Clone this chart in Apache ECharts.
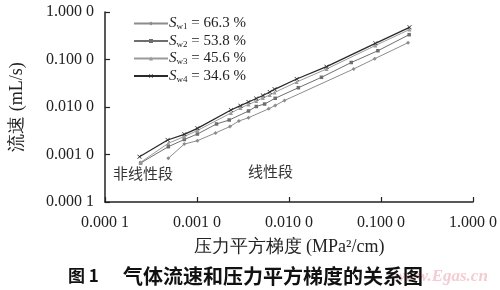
<!DOCTYPE html>
<html><head><meta charset="utf-8">
<script src="https://cdn.jsdelivr.net/npm/echarts@6/dist/echarts.min.js"></script>
<style>html,body{margin:0;padding:0;background:#fff}#c{width:500px;height:290px}</style>
</head><body><div id="c"></div>
<script>
// Data (log-log)
var sw1X = [0.000488, 0.000728, 0.00101, 0.00159, 0.00228, 0.00285, 0.00363, 0.00602, 0.00708, 0.00893, 0.0504, 0.0855, 0.197];
var sw1Y = [0.000832, 0.00166, 0.00195, 0.00284, 0.00388, 0.00507, 0.00595, 0.00917, 0.01076, 0.0137, 0.0631, 0.104, 0.226];
var sw2X = [0.000244, 0.000488, 0.000728, 0.00101, 0.00163, 0.00224, 0.00363, 0.00441, 0.00543, 0.00708, 0.01264, 0.02254, 0.04753, 0.0925, 0.2023];
var sw2Y = [0.000662, 0.00146, 0.00207, 0.0027, 0.00439, 0.00532, 0.00824, 0.01025, 0.01156, 0.01525, 0.02548, 0.0422, 0.0865, 0.153, 0.333];
var sw3X = [0.000244, 0.000488, 0.000728, 0.00101, 0.00234, 0.00297, 0.00363, 0.00441, 0.00521, 0.00618, 0.00697, 0.01213, 0.02559, 0.0869, 0.204];
var sw3Y = [0.000685, 0.00172, 0.00239, 0.0032, 0.00748, 0.00953, 0.0113, 0.01337, 0.01546, 0.0179, 0.0202, 0.0336, 0.0631, 0.197, 0.428];
var sw4X = [0.000237, 0.00048, 0.000728, 0.00101, 0.00234, 0.00297, 0.00363, 0.00441, 0.00521, 0.00618, 0.00697, 0.01213, 0.02559, 0.0869, 0.204];
var sw4Y = [0.000899, 0.00202, 0.00266, 0.00356, 0.00865, 0.01065, 0.01274, 0.0151, 0.01746, 0.0207, 0.0236, 0.0389, 0.0706, 0.219, 0.476];
var seriesNames = ['Sw1', 'Sw2', 'Sw3', 'Sw4'];
var seriesSub = ['w1', 'w2', 'w3', 'w4'];
var seriesPct = ['66.3 %', '53.8 %', '45.6 %', '34.6 %'];
var xTickLabels = ['0.000 1', '0.001 0', '0.010 0', '0.100 0', '1.000 0'];
var yTickLabels = ['0.000 1', '0.001 0', '0.010 0', '0.100 0', '1.000 0'];
var xName = '压力平方梯度 (MPa²/cm)';
var yName = '流速 (mL/s)';
var figTitle = '图 1';
var figCaption = '气体流速和压力平方梯度的关系图';
var noteNonlinear = '非线性段';
var noteLinear = '线性段';
var watermark = 'www.Egas.cn';

function pairs(xs, ys) { return xs.map(function (x, i) { return [x, ys[i]]; }); }
function tickLabel(arr) {
  return function (v) { var k = Math.round(Math.log10(v)) + 4; return arr[k] || ''; };
}
var serif = 'Liberation Serif';
var colors = ['#8c8c8c', '#6e6e6e', '#9a9a9a', '#2a2a2a'];
var symbols = ['diamond', 'rect', 'triangle', 'path://M0,1L1,0L5,4L9,0L10,1L6,5L10,9L9,10L5,6L1,10L0,9L4,5Z'];
var sizes = [4, 3.5, 4, 4.5];
var datas = [pairs(sw1X, sw1Y), pairs(sw2X, sw2Y), pairs(sw3X, sw3Y), pairs(sw4X, sw4Y)];

var chart = echarts.init(document.getElementById('c'), null, { renderer: 'canvas' });
chart.setOption({
  animation: false,
  grid: { left: 96, right: 22, top: 12, bottom: 88 },
  legend: {
    orient: 'vertical', left: 128, top: 11, itemWidth: 34, itemHeight: 5, itemGap: 2,
    data: seriesNames.map(function (n) { return { name: n, itemStyle: {} }; }),
    formatter: function (n) {
      var i = seriesNames.indexOf(n);
      return '{s|S}{sub|' + seriesSub[i] + '}{t| = ' + seriesPct[i] + '}';
    },
    textStyle: {
      fontFamily: serif, color: '#222', padding: [0, 0, 0, -4],
      rich: {
        s: { fontFamily: serif, fontStyle: 'italic', fontSize: 15, color: '#222', lineHeight: 16 },
        sub: { fontFamily: serif, fontSize: 9, color: '#222', lineHeight: 16, verticalAlign: 'bottom', padding: [4, 0, 0, 0] },
        t: { fontFamily: serif, fontSize: 15, color: '#222', lineHeight: 16 }
      }
    }
  },
  xAxis: {
    type: 'log', logBase: 10, min: 0.0001, max: 1,
    name: xName, nameLocation: 'middle', nameGap: 36,
    nameTextStyle: { fontFamily: serif, fontSize: 18, color: '#222' },
    axisLine: { lineStyle: { color: '#222', width: 1.5 } },
    axisTick: { inside: true, length: 5, lineStyle: { color: '#222', width: 1.2 } },
    minorTick: { show: false },
    splitLine: { show: false },
    axisLabel: { formatter: tickLabel(xTickLabels), fontFamily: serif, fontSize: 16, color: '#222', margin: 13 }
  },
  yAxis: {
    type: 'log', logBase: 10, min: 0.0001, max: 1,
    name: yName, nameLocation: 'middle', nameGap: 79, nameRotate: 90,
    nameTextStyle: { fontFamily: serif, fontSize: 18, color: '#222' },
    axisLine: { show: true, lineStyle: { color: '#222', width: 1.5 } },
    axisTick: { show: true, inside: true, length: 5, lineStyle: { color: '#222', width: 1.2 } },
    splitLine: { show: false },
    axisLabel: { formatter: tickLabel(yTickLabels), fontFamily: serif, fontSize: 16, color: '#222', margin: 11 }
  },
  series: seriesNames.map(function (n, i) {
    return {
      name: n, type: 'line', data: datas[i], symbol: symbols[i], symbolSize: sizes[i],
      lineStyle: { color: colors[i], width: i === 3 ? 1.3 : 1 },
      itemStyle: { color: colors[i] }, z: 2 + i
    };
  }),
  graphic: [
    { type: 'text', left: 113, top: 166, style: { text: noteNonlinear, font: '15px "Noto Sans CJK SC"', fill: '#333' } },
    { type: 'text', left: 248, top: 164, style: { text: noteLinear, font: '15px "Noto Sans CJK SC"', fill: '#333' } },
    { type: 'text', left: 394, top: 268, style: { text: watermark, font: 'italic bold 17px "Liberation Serif"', fill: '#f4ccd3' }, z: 1 },
    { type: 'text', left: 68, top: 267, style: { text: figTitle, font: 'bold 17px "Noto Sans CJK SC"', fill: '#111' }, z: 5 },
    { type: 'text', left: 123, top: 266, style: { text: figCaption, font: 'bold 20px "Noto Sans CJK SC"', fill: '#111' }, z: 5 }
  ]
});
</script></body></html>
